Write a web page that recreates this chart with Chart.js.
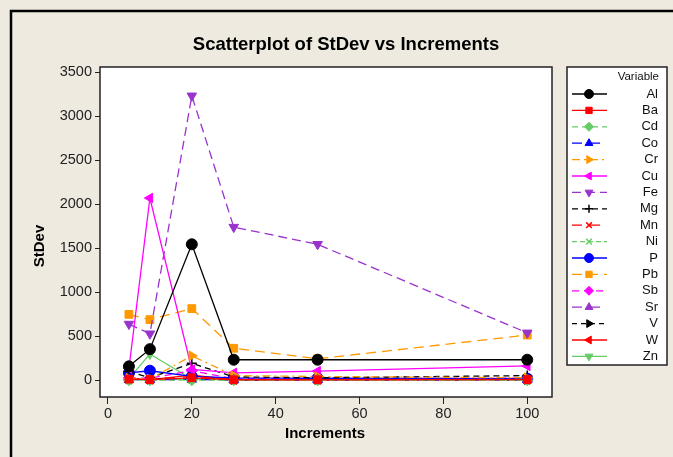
<!DOCTYPE html>
<html>
<head>
<meta charset="utf-8">
<script src="https://cdn.jsdelivr.net/npm/chart.js@4/dist/chart.umd.min.js"></script>
<style>
  html, body { margin: 0; padding: 0; background: #eeeae0; }
  #wrap { width: 673px; height: 457px; position: relative; }
</style>
</head>
<body>
<div id="wrap"><canvas id="chart-scatter" width="673" height="457"></canvas></div>
<script>
/* data */
var increments = [5, 10, 20, 30, 50, 100];
var xTicks = [0, 20, 40, 60, 80, 100];
var yTicks = [0, 500, 1000, 1500, 2000, 2500, 3000, 3500];

var Al = [160, 355, 1545, 235, 235, 235];
var Ba = [15, 10, 30, 8, 8, 10];
var Cd = [3, 3, 3, 2, 2, 2];
var Co = [10, 8, 12, 6, 6, 8];
var Cr = [25, 15, 280, 55, 45, 30];
var Cu = [135, 2070, 125, 85, 105, 165];
var Fe = [640, 530, 3230, 1740, 1545, 540];
var Mg = [100, 30, 195, 40, 30, 55];
var Mn = [20, 15, 45, 10, 10, 12];
var Ni = [8, 6, 10, 5, 5, 6];
var P  = [85, 110, 45, 30, 25, 20];
var Pb = [750, 690, 815, 365, 245, 515];
var Sb = [30, 25, 110, 20, 20, 25];
var Sr = [20, 15, 25, 12, 12, 15];
var V  = [15, 12, 20, 10, 10, 10];
var W  = [12, 10, 60, 8, 8, 10];
var Zn = [20, 300, 15, 10, 10, 10];

function pts(arr) {
    return arr.map(function (v, i) { return {x: increments[i], y: v}; });
}

// label, values, colour, marker, rotation, dash
var series = [
    ['Al', Al, '#000000', 'circle', 0, []],
    ['Ba', Ba, '#ff0000', 'rect', 0, []],
    ['Cd', Cd, '#66cc66', 'rectRot', 0, [6, 4]],
    ['Co', Co, '#0000ff', 'triangle', 0, [10, 8]],
    ['Cr', Cr, '#ff9900', 'triangle', 90, [8, 4, 2, 4]],
    ['Cu', Cu, '#ff00ff', 'triangle', -90, []],
    ['Fe', Fe, '#9933cc', 'triangle', 180, [9, 5]],
    ['Mg', Mg, '#000000', 'cross', 0, [6, 4]],
    ['Mn', Mn, '#ff0000', 'crossRot', 0, [10, 8]],
    ['Ni', Ni, '#66cc66', 'crossRot', 0, [5, 3]],
    ['P', P, '#0000ff', 'circle', 0, []],
    ['Pb', Pb, '#ff9900', 'rect', 0, [10, 6]],
    ['Sb', Sb, '#ff00ff', 'rectRot', 0, [7, 5]],
    ['Sr', Sr, '#9933cc', 'triangle', 0, [10, 8]],
    ['V', V, '#000000', 'triangle', 90, [5, 4]],
    ['W', W, '#ff0000', 'triangle', -90, []],
    ['Zn', Zn, '#66cc66', 'triangle', 180, []]
];

var datasets = series.map(function (s) {
    var cross = s[3] === 'cross' || s[3] === 'crossRot';
    return {
        label: s[0],
        data: pts(s[1]),
        showLine: true,
        borderColor: s[2],
        backgroundColor: s[2],
        pointBorderColor: s[2],
        pointBackgroundColor: s[2],
        pointStyle: s[3],
        pointRotation: s[4],
        pointRadius: cross ? 5 : 5.5,
        pointBorderWidth: cross ? 1.5 : 1,
        borderWidth: 1.3,
        borderDash: s[5],
        tension: 0
    };
});

var frameBox = {
    id: 'frameBox',
    beforeDraw: function (chart) {
        var c = chart.ctx, a = chart.chartArea;
        c.save();
        c.fillStyle = '#eeeae0';
        c.fillRect(0, 0, chart.width, chart.height);
        c.strokeStyle = '#000';
        c.lineWidth = 2.5;
        c.strokeRect(11, 11, 720, 520);
        c.fillStyle = '#ffffff';
        c.fillRect(a.left, a.top, a.right - a.left, a.bottom - a.top);
        c.restore();
    },
    afterDraw: function (chart) {
        var c = chart.ctx, a = chart.chartArea;
        c.save();
        c.strokeStyle = '#222';
        c.lineWidth = 1.5;
        c.strokeRect(a.left, a.top, a.right - a.left, a.bottom - a.top);

        // title and axis titles
        c.fillStyle = '#000';
        c.textAlign = 'center';
        c.textBaseline = 'middle';
        c.font = 'bold 18.5px "Liberation Sans", Arial, sans-serif';
        c.fillText('Scatterplot of StDev vs Increments', 346, 45);
        c.font = 'bold 15px "Liberation Sans", Arial, sans-serif';
        c.fillText('Increments', 325, 434);
        c.translate(40, 246);
        c.rotate(-Math.PI / 2);
        c.fillText('StDev', 0, 0);
        c.restore();

        // legend box
        var lx = 567, ly = 67, lw = 100, lh = 298;
        c.save();
        c.fillStyle = '#fff';
        c.fillRect(lx, ly, lw, lh);
        c.strokeStyle = '#222';
        c.lineWidth = 1.5;
        c.strokeRect(lx, ly, lw, lh);
        c.fillStyle = '#111';
        c.textAlign = 'right';
        c.textBaseline = 'middle';
        c.font = '11.5px "Liberation Sans", Arial, sans-serif';
        c.fillText('Variable', 659, 77);
        c.font = '13px "Liberation Sans", Arial, sans-serif';
        chart.data.datasets.forEach(function (ds, i) {
            var y = 94 + i * 16.4;
            c.save();
            c.strokeStyle = ds.borderColor;
            c.lineWidth = 1.3;
            c.setLineDash(ds.borderDash);
            c.beginPath();
            c.moveTo(572, y);
            c.lineTo(607, y);
            c.stroke();
            c.restore();
            c.save();
            c.fillStyle = ds.pointBackgroundColor;
            c.strokeStyle = ds.pointBorderColor;
            c.lineWidth = ds.pointBorderWidth;
            Chart.helpers.drawPoint(c, {
                pointStyle: ds.pointStyle,
                rotation: ds.pointRotation,
                radius: ds.pointRadius - 1,
                borderWidth: ds.pointBorderWidth
            }, 589, y);
            c.restore();
            c.fillStyle = '#111';
            c.fillText(ds.label, 658, y);
        });
        c.restore();
    }
};

var tickFont = {family: '"Liberation Sans", Arial, sans-serif', size: 14.5};

var scatterChart = new Chart(document.getElementById('chart-scatter').getContext('2d'), {
    type: 'scatter',
    data: {datasets: datasets},
    options: {
        responsive: false,
        animation: false,
        events: [],
        layout: {padding: {left: 0, right: 121, top: 67, bottom: 0}},
        plugins: {legend: {display: false}, title: {display: false}, tooltip: {enabled: false}},
        scales: {
            x: {
                type: 'linear',
                min: -1.9,
                max: 105.9,
                afterFit: function (s) { s.height = 60; },
                afterBuildTicks: function (s) { s.ticks = xTicks.map(function (v) { return {value: v}; }); },
                grid: {drawOnChartArea: false, drawTicks: true, tickLength: 7, color: '#222', offset: false},
                border: {display: false},
                ticks: {color: '#222', font: tickFont, padding: 1, maxRotation: 0,
                    callback: function (v) { return String(v); }}
            },
            y: {
                type: 'linear',
                min: -188,
                max: 3557,
                afterFit: function (s) { s.width = 100; },
                afterBuildTicks: function (s) { s.ticks = yTicks.map(function (v) { return {value: v}; }); },
                grid: {drawOnChartArea: false, drawTicks: true, tickLength: 5, color: '#222'},
                border: {display: false},
                ticks: {color: '#222', font: tickFont, padding: 3,
                    callback: function (v) { return String(v); }}
            }
        }
    },
    plugins: [frameBox]
});
</script>
</body>
</html>
